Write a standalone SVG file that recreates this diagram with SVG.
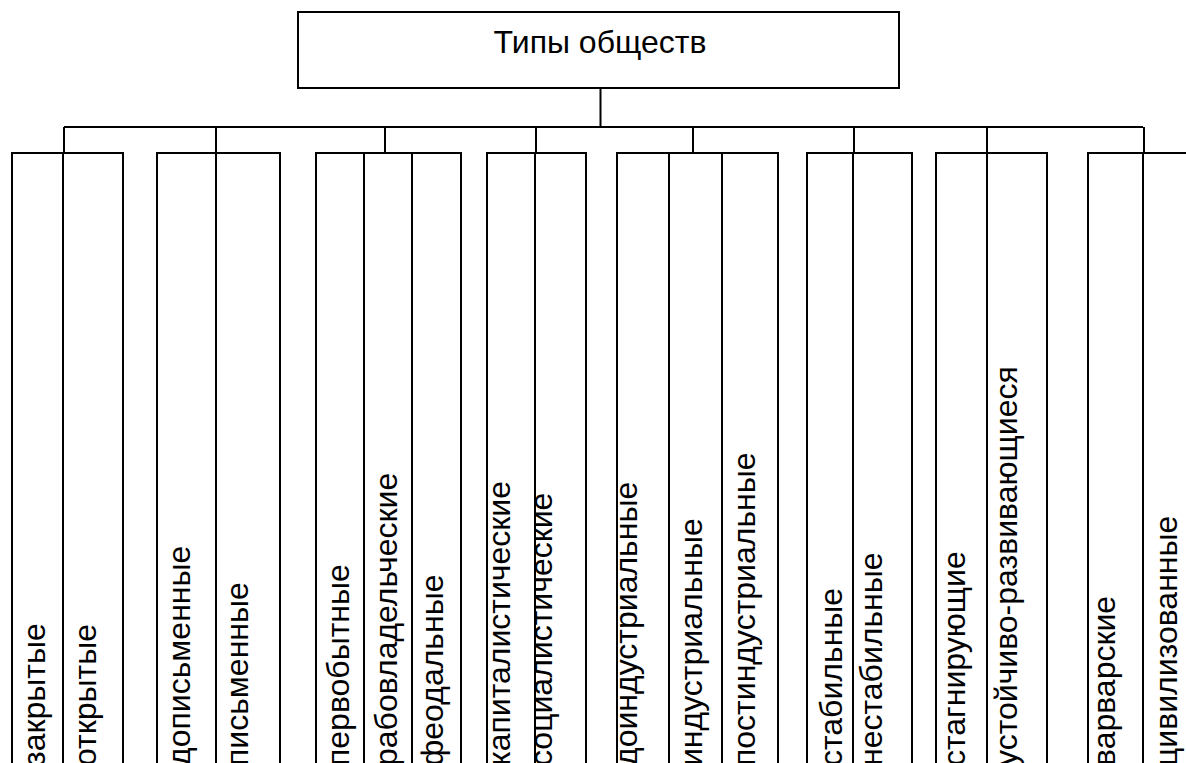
<svg xmlns="http://www.w3.org/2000/svg" width="1186" height="763" viewBox="0 0 1186 763">
<style>
.ln{fill:none;stroke:#000;stroke-width:2}
.t{font-family:"Liberation Sans",Arial,sans-serif;font-size:32px;fill:#000}
</style>
<rect width="1186" height="763" fill="#fff"/>
<g id="root">
<rect class="ln" x="298" y="12" width="601" height="76"/>
<text class="t" x="600" y="53" text-anchor="middle">Типы обществ</text>
</g>
<g id="connectors" class="ln">
<path d="M600.5 88V128M64 127H1143M64 127V153M216 127V153M385 127V153M536 127V153M693 127V153M854 127V153M987 127V153M1144 127V153"/>
</g>
<g id="group1">
<path class="ln" d="M12 763V153H123V763M63 153V763"/>
<g id="n-zakrytye"><text class="t" transform="translate(45,766) rotate(-90)">закрытые</text></g>
<g id="n-otkrytye"><text class="t" transform="translate(96,766) rotate(-90)">открытые</text></g>
</g>
<g id="group2">
<path class="ln" d="M157 763V153H280V763M216 153V763"/>
<g id="n-dopismennye"><text class="t" transform="translate(190,766) rotate(-90)">дописьменные</text></g>
<g id="n-pismennye"><text class="t" transform="translate(248,766) rotate(-90)">письменные</text></g>
</g>
<g id="group3">
<path class="ln" d="M316 763V153H461V763M364 153V763M412 153V763"/>
<g id="n-pervobytnye"><text class="t" transform="translate(349,766) rotate(-90)">первобытные</text></g>
<g id="n-rabovladelcheskie"><text class="t" transform="translate(397,766) rotate(-90)">рабовладельческие</text></g>
<g id="n-feodalnye"><text class="t" transform="translate(443,766) rotate(-90)">феодальные</text></g>
</g>
<g id="group4">
<path class="ln" d="M487 763V153H586V763M535 153V763"/>
<g id="n-kapitalisticheskie"><text class="t" transform="translate(510,766) rotate(-90)">капиталистические</text></g>
<g id="n-socialisticheskie"><text class="t" transform="translate(552,766) rotate(-90)">социалистические</text></g>
</g>
<g id="group5">
<path class="ln" d="M617 763V153H778V763M669 153V763M722 153V763"/>
<g id="n-doindustrialnye"><text class="t" transform="translate(637,766) rotate(-90)">доиндустриальные</text></g>
<g id="n-industrialnye"><text class="t" transform="translate(702,766) rotate(-90)">индустриальные</text></g>
<g id="n-postindustrialnye"><text class="t" transform="translate(755,766) rotate(-90)">постиндустриальные</text></g>
</g>
<g id="group6">
<path class="ln" d="M807 763V153H912V763M853 153V763"/>
<g id="n-stabilnye"><text class="t" transform="translate(842,766) rotate(-90)">стабильные</text></g>
<g id="n-nestabilnye"><text class="t" transform="translate(882,766) rotate(-90)">нестабильные</text></g>
</g>
<g id="group7">
<path class="ln" d="M936 763V153H1047V763M987 153V763"/>
<g id="n-stagniruyushchie"><text class="t" transform="translate(965,766) rotate(-90)">стагнирующие</text></g>
<g id="n-ustoichivo"><text class="t" transform="translate(1017,766) rotate(-90)">устойчиво-развивающиеся</text></g>
</g>
<g id="group8">
<path class="ln" d="M1088 763V153H1186M1143 153V763"/>
<g id="n-varvarskie"><text class="t" transform="translate(1115,766) rotate(-90)">варварские</text></g>
<g id="n-civilizovannye"><text class="t" transform="translate(1177,766) rotate(-90)">цивилизованные</text></g>
</g>
</svg>
